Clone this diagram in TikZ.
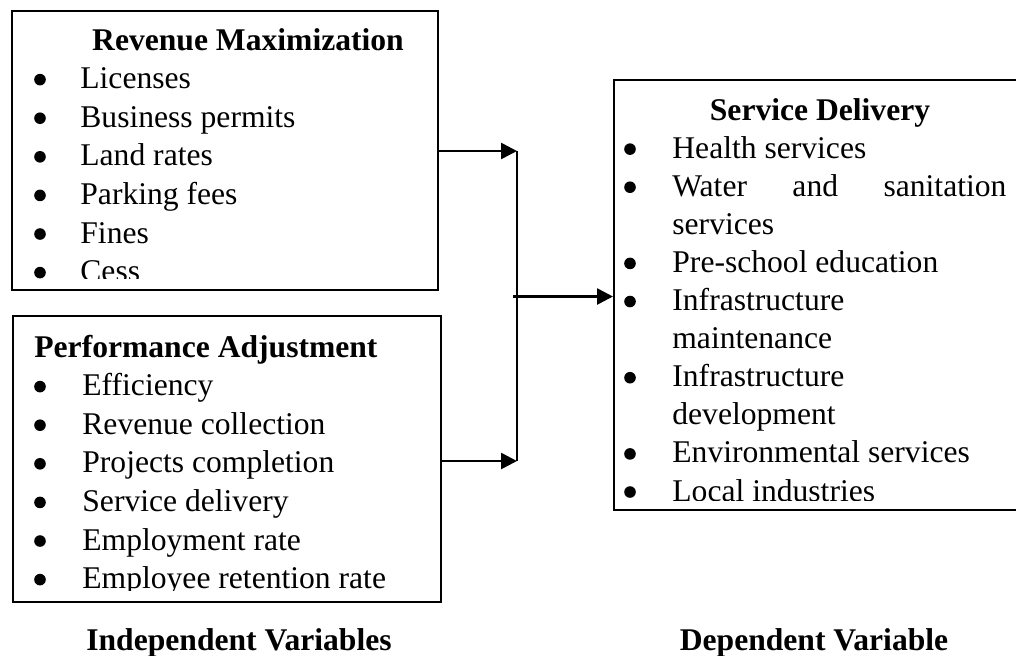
\documentclass[tikz,border=0pt]{standalone}
\usepackage{fontspec}
\setmainfont{Liberation Serif}
\usetikzlibrary{arrows.meta}
\begin{document}
\begin{tikzpicture}[x=0.5pt,y=-0.5pt,
  box/.style={draw=black, line width=1pt, rectangle, inner sep=0pt},
  item/.style={anchor=base west, inner sep=0pt, font=\fontsize{15.8pt}{19pt}\selectfont},
  dot/.style={circle, fill=black, inner sep=0pt, minimum size=5.8pt},
  head/.style={anchor=base, inner sep=0pt, font=\fontsize{15.8pt}{19pt}\selectfont\bfseries},
  conn/.style={line width=1.3pt},
  arr/.style={conn, -{Triangle[length=8pt,width=8pt]}}]
\useasboundingbox (0,0) rectangle (1016,655);

% boxes
\node[box, minimum width=213pt, minimum height=139.5pt] (rev) at (225,150.5) {};
\node[box, minimum width=214pt, minimum height=143pt] (perf) at (227,459) {};
\node[box, minimum width=210pt, minimum height=215pt] (serv) at (824,295) {};

% connectors
\coordinate (jt) at (517,151);
\coordinate (jb) at (517,461);
\coordinate (jm) at (513,296.5);
\draw[arr] (rev.east |- jt) -- (jt);
\draw[conn] (jt) -- (jb);
\draw[arr] (perf.east |- jb) -- (jb);
\draw[arr] (jm) -- (jm -| serv.west);

% Revenue Maximization
\node[head] (rh) at (248,50) {Revenue Maximization};
\begin{scope}
\clip (12,11) rectangle (438,278);
\foreach \t [count=\i] in {Licenses, Business permits, Land rates, Parking fees, Fines, Cess} {
  \node[dot] (rb\i) at (40,{50+38.6*\i-9}) {};
  \node[item] (rt\i) at (80,{50+38.6*\i}) {\t};
}
\end{scope}

% Performance Adjustment
\node[head, anchor=base west] (ph) at (34,357) {Performance Adjustment};
\begin{scope}
\clip (13,316) rectangle (441,590);
\foreach \t [count=\i] in {Efficiency, Revenue collection, Projects completion, Service delivery, Employment rate, Employee retention rate} {
  \node[dot] (pb\i) at (40,{357+38.6*\i-9}) {};
  \node[item] (pt\i) at (82,{357+38.6*\i}) {\t};
}
\end{scope}

% Service Delivery
\node[head] (sh) at (820,120) {Service Delivery};
\begin{scope}
\clip (614,80) rectangle (1034,500);
\foreach \k in {1,2,4,5,7,9,10} {
  \node[dot] (sb\k) at (630,{120+38.1*\k-9}) {};
}
\node[item] (st1) at (672,{120+38.1*1}) {Health services};
\node[item] (st2) at (672,{120+38.1*2}) {\makebox[167pt][s]{Water and sanitation}};
\node[item] (st3) at (672,{120+38.1*3}) {services};
\node[item] (st4) at (672,{120+38.1*4}) {Pre-school education};
\node[item] (st5) at (672,{120+38.1*5}) {Infrastructure};
\node[item] (st6) at (672,{120+38.1*6}) {maintenance};
\node[item] (st7) at (672,{120+38.1*7}) {Infrastructure};
\node[item] (st8) at (672,{120+38.1*8}) {development};
\node[item] (st9) at (672,{120+38.1*9}) {Environmental services};
\node[item] (st10) at (672,{120+38.1*10}) {Local industries};
\end{scope}

% captions
\node[head] (iv) at (239,650) {Independent Variables};
\node[head] (dv) at (814,650) {Dependent Variable};
\end{tikzpicture}
\end{document}
